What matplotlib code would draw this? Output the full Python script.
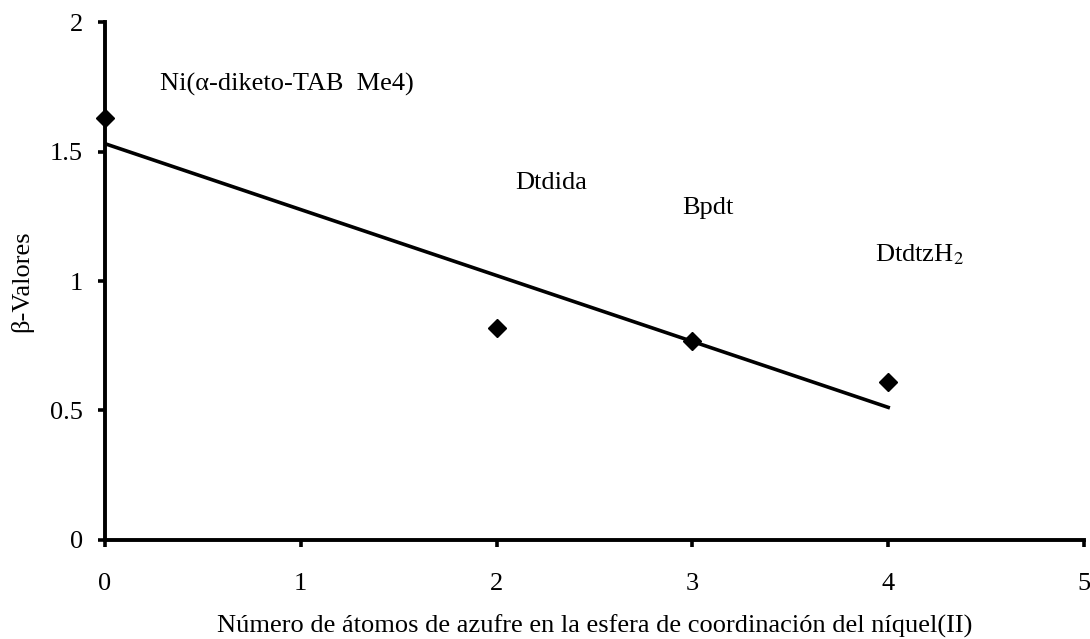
import matplotlib.pyplot as plt
import numpy as np

# Data
n_azufre = [0, 2, 3, 4]
beta = [1.63, 0.82, 0.77, 0.61]
compuestos = ["Ni(α-diketo-TAB  Me4)", "Dtdida", "Bpdt", "DtdtzH$_2$"]
etiqueta_x = [0.93, 2.28, 3.08, 4.16]
etiqueta_y = [1.76, 1.38, 1.28, 1.10]

plt.rcParams["font.family"] = ["Liberation Serif", "DejaVu Serif"]
plt.rcParams["mathtext.fontset"] = "stix"

fig = plt.figure(figsize=(10.9, 6.39), dpi=100)
ax = fig.add_axes([0.0963, 0.155, 0.8982, 0.8105])

# Points and linear trend line
ax.plot(n_azufre, beta, "D", color="black", markersize=9, clip_on=False, zorder=4)
coef = np.polyfit(n_azufre, beta, 1)
xs = np.array([min(n_azufre), max(n_azufre)])
ax.plot(xs, np.polyval(coef, xs), color="black", lw=2.6, zorder=3)

for txt, tx, ty in zip(compuestos, etiqueta_x, etiqueta_y):
    ax.text(tx, ty, txt, ha="center", va="center", fontsize=19)

ax.set_xlim(0, 5)
ax.set_ylim(0, 2)
ax.set_xticks([0, 1, 2, 3, 4, 5])
ax.set_yticks([0, 0.5, 1, 1.5, 2])
ax.set_yticklabels(["0", "0.5", "1", "1.5", "2"])

for side in ["top", "right"]:
    ax.spines[side].set_visible(False)
for side in ["left", "bottom"]:
    ax.spines[side].set_linewidth(2.8)
ax.tick_params(direction="out", length=5, width=2.6, labelsize=19)
ax.tick_params(axis="x", pad=19)
ax.tick_params(axis="y", pad=11)

ax.set_xlabel("Número de átomos de azufre en la esfera de coordinación del níquel(II)",
              fontsize=19, labelpad=14)
ax.set_ylabel("β-Valores", fontsize=19, labelpad=12)

plt.savefig("out.png", dpi=100)
